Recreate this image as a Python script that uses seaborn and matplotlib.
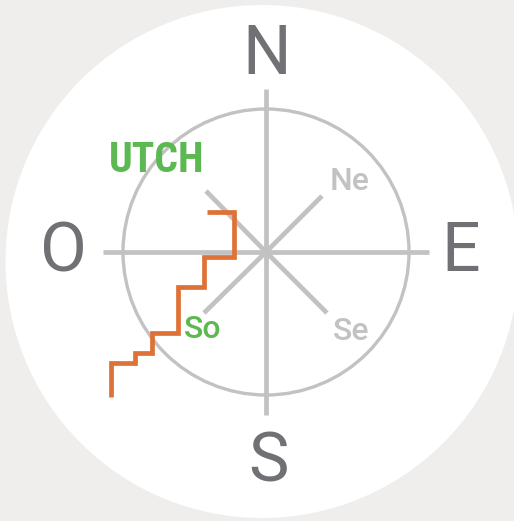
import matplotlib.pyplot as plt
from matplotlib.patches import Circle
import seaborn as sns
import numpy as np
import pandas as pd

# compass in pixel-like units, origin at the compass centre, y up
cardinal_labels = ["N", "E", "S", "O"]
cardinal_x = [1, 195, 2, -203]
cardinal_y = [197, 0, -211, 0]

spoke_names = ["N", "E", "S", "O", "Ne", "Se", "So", "No"]
spoke_dx = [0, 163, 0, -163, 56, 61, -62, -60]
spoke_dy = [163, 0, -163, 0, 56, -61, -61, 61]

ring_radius = 143

inter_labels = ["Ne", "Se", "So"]
inter_x = [84, 85, -63]
inter_y = [70, -79, -77]

# staircase path
stair_x = [-155, -155, -131, -131, -114, -114, -88, -88, -62, -62, -32, -32, -59]
stair_y = [-145, -111, -111, -101, -101, -81, -81, -35, -35, -5, -5, 40, 40]

GRAY = "#c2c2c2"
DARK = "#707075"
GREEN = "#5cb850"
ORANGE = "#de7236"

sns.set_theme(style="white")
plt.rcParams['font.family'] = ['Roboto', 'DejaVu Sans']

fig = plt.figure(figsize=(5.14, 5.21), dpi=100)
fig.patch.set_facecolor("#efeeec")
ax = fig.add_axes([0, 0, 1, 1])
ax.set_xlim(-266, 248)
ax.set_ylim(-269, 252)
ax.set_aspect("equal")
ax.axis("off")

ax.add_patch(Circle((-4, -9.5), 256.5, facecolor="white", edgecolor="none", zorder=0))
ax.add_patch(Circle((0, 0), ring_radius, facecolor="none", edgecolor=GRAY, lw=2.4, zorder=1))

spokes = pd.DataFrame({
    "x": np.ravel([[0, dx] for dx in spoke_dx]),
    "y": np.ravel([[0, dy] for dy in spoke_dy]),
    "spoke": np.repeat(spoke_names, 2),
})
sns.lineplot(data=spokes, x="x", y="y", units="spoke", estimator=None, sort=False,
             color=GRAY, lw=3.4, ax=ax, zorder=2, solid_capstyle="butt")

stairs = pd.DataFrame({"x": stair_x, "y": stair_y})
sns.lineplot(data=stairs, x="x", y="y", estimator=None, sort=False,
             color=ORANGE, lw=3.4, ax=ax, zorder=3,
             solid_capstyle="butt", solid_joinstyle="miter")

for lab, x, y in zip(cardinal_labels, cardinal_x, cardinal_y):
    ax.text(x, y, lab, ha="center", va="center", fontsize=49, color=DARK, zorder=4)

for lab, x, y in zip(inter_labels, inter_x, inter_y):
    col = GREEN if lab == "So" else GRAY
    ax.text(x, y, lab, ha="center", va="center", fontsize=23, color=col,
            fontweight="medium", zorder=4)

ax.text(-109.5, 92, "UTCH", ha="center", va="center", fontsize=30, color=GREEN,
        family=["Roboto Condensed", "DejaVu Sans"], fontweight="bold", zorder=4)

fig.savefig("out.png", dpi=100, facecolor=fig.get_facecolor())
